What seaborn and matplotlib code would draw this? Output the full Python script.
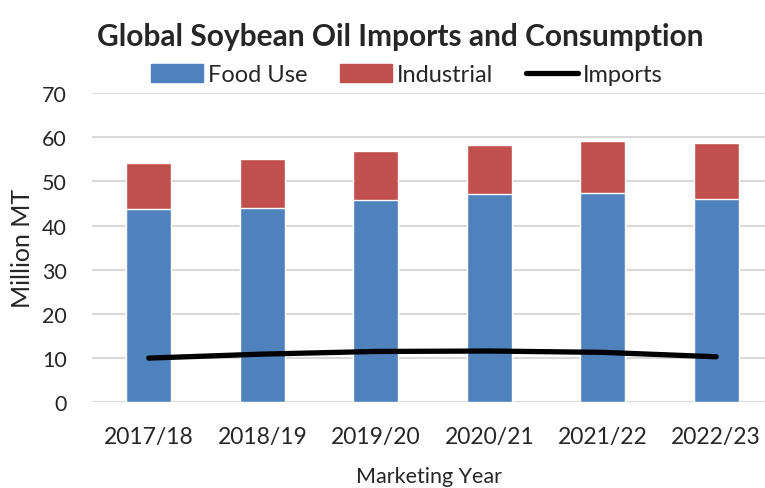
import numpy as np
import pandas as pd
import matplotlib
matplotlib.use("Agg")
import matplotlib.pyplot as plt
import seaborn as sns
from matplotlib.patches import Patch
from matplotlib.lines import Line2D

# values (million MT)
years = ["2017/18", "2018/19", "2019/20", "2020/21", "2021/22", "2022/23"]
food_use = [43.7, 44.0, 45.7, 47.1, 47.3, 46.0]
industrial = [10.5, 11.1, 11.2, 11.2, 11.8, 12.6]
imports = [10.0, 10.9, 11.5, 11.6, 11.3, 10.3]

df = pd.DataFrame({"year": years, "food": food_use, "industrial": industrial, "imports": imports})
df["total"] = df["food"] + df["industrial"]

sns.set_style("white")
plt.rcParams["font.family"] = ["Lato", "DejaVu Sans"]

blue = "#4F81BD"
red = "#C0504D"

fig = plt.figure(figsize=(7.65, 4.89), dpi=100)
ax = fig.add_axes([0.1203, 0.1753, 0.8797, 0.6325])

# stacked bars: total (red) behind, food (blue) in front
sns.barplot(data=df, x="year", y="total", color=red, width=0.40, saturation=1, ax=ax, zorder=2)
sns.barplot(data=df, x="year", y="food", color=blue, width=0.40, saturation=1, ax=ax, zorder=3)
sns.lineplot(data=df, x="year", y="imports", color="black", linewidth=3.8, ax=ax, zorder=4,
             solid_capstyle="round")

ax.set_ylim(0, 70)
ax.set_xlim(-0.5, 5.43)
ax.set_yticks(range(0, 71, 10))
ax.grid(axis="y", color="#d9d9d9", linewidth=1.5, zorder=0)
ax.set_axisbelow(True)
for s in ax.spines.values():
    s.set_visible(False)
ax.tick_params(axis="y", length=0, labelsize=15.5, pad=18)
ax.tick_params(axis="x", length=0, labelsize=16.5, pad=17)
ax.set_xlabel("Marketing Year", fontsize=15.5, labelpad=14)
ax.set_ylabel("Million MT", fontsize=18, labelpad=6)

fig.text(0.523, 0.925, "Global Soybean Oil Imports and Consumption", ha="center", va="center",
         fontsize=21.5, fontweight="bold")

handles = [Patch(color=blue, label="Food Use"),
           Patch(color=red, label="Industrial"),
           Line2D([0], [0], color="black", linewidth=3.8, label="Imports")]
fig.legend(handles=handles, loc="center", bbox_to_anchor=(0.532, 0.845), ncol=3, frameon=False,
           fontsize=17, handlelength=2.2, handleheight=0.8, handletextpad=0.2, columnspacing=1.4)

fig.savefig("out.png", dpi=100)
